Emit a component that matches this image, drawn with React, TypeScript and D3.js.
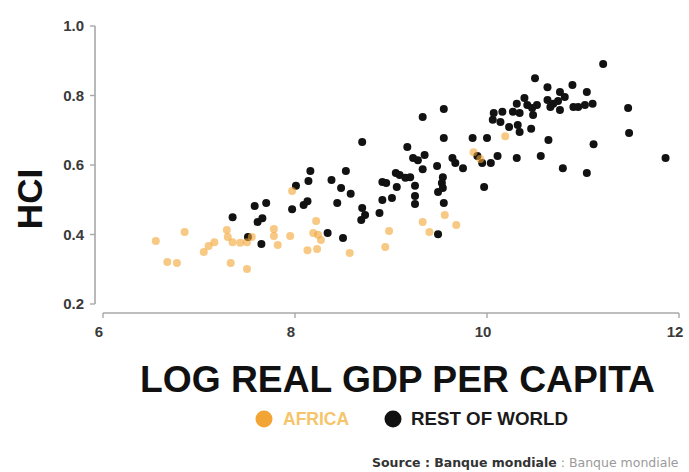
import React from "react";
import * as d3 from "d3";

// HCI vs log real GDP per capita, by region
const africaGdp = [
  6.55, 6.85, 6.67, 6.77, 7.05, 7.10, 7.16, 7.29, 7.30, 7.35, 7.43, 7.50, 7.55, 7.33, 7.50,
  7.78, 7.78, 7.82, 7.95, 7.97, 8.22, 8.24, 8.27, 8.19, 8.13, 8.23, 8.57, 8.98, 8.94, 9.33,
  9.40, 9.56, 9.68, 9.86, 9.93, 10.19,
];
const africaHci = [
  0.381, 0.407, 0.321, 0.318, 0.350, 0.367, 0.378, 0.413, 0.393, 0.378, 0.376, 0.378, 0.393, 0.318, 0.301,
  0.416, 0.396, 0.370, 0.396, 0.525, 0.439, 0.399, 0.384, 0.404, 0.355, 0.358, 0.347, 0.410, 0.364, 0.436,
  0.407, 0.456, 0.427, 0.637, 0.617, 0.683,
];

const worldGdp = [
  7.35, 7.58, 7.70, 7.61, 7.66, 7.51, 7.65, 8.01, 7.97, 8.09, 8.13, 8.14, 8.16, 8.38, 8.48,
  8.53, 8.58, 8.44, 8.70, 8.34, 8.50, 8.70, 8.73, 8.69, 8.88, 8.91, 9.01, 8.91, 8.95, 9.06,
  9.05, 9.09, 9.15, 9.20, 9.17, 9.23, 9.28, 9.35, 9.33, 9.33, 9.55, 9.55, 9.48, 9.25, 9.25,
  9.25, 9.54, 9.53, 9.54, 9.49, 9.55, 9.49, 9.64, 9.67, 9.75, 9.85, 10.00, 9.90, 9.95, 10.04,
  10.11, 10.31, 9.97, 10.07, 10.16, 10.06, 10.14, 10.27, 10.34, 10.23, 10.32, 10.34, 10.39, 10.31, 10.42,
  10.47, 10.52, 10.48, 10.46, 10.50, 10.63, 10.63, 10.66, 10.76, 10.81, 10.74, 10.69, 10.76, 10.89, 11.04,
  10.90, 10.95, 11.02, 11.10, 10.64, 11.11, 10.56, 10.79, 11.04, 11.21, 11.47, 11.48, 11.86,
];
const worldHci = [
  0.450, 0.482, 0.491, 0.436, 0.447, 0.393, 0.373, 0.540, 0.473, 0.485, 0.496, 0.554, 0.583, 0.557, 0.534,
  0.583, 0.517, 0.491, 0.666, 0.404, 0.390, 0.476, 0.456, 0.442, 0.462, 0.499, 0.505, 0.551, 0.548, 0.537,
  0.577, 0.571, 0.563, 0.565, 0.652, 0.620, 0.614, 0.629, 0.588, 0.738, 0.761, 0.678, 0.597, 0.540, 0.511,
  0.488, 0.565, 0.548, 0.534, 0.522, 0.491, 0.401, 0.620, 0.606, 0.591, 0.678, 0.678, 0.626, 0.606, 0.606,
  0.626, 0.620, 0.537, 0.750, 0.753, 0.730, 0.724, 0.753, 0.750, 0.709, 0.715, 0.695, 0.793, 0.776, 0.773,
  0.764, 0.773, 0.744, 0.704, 0.850, 0.824, 0.787, 0.767, 0.810, 0.796, 0.784, 0.776, 0.758, 0.830, 0.810,
  0.767, 0.767, 0.773, 0.776, 0.672, 0.660, 0.626, 0.591, 0.577, 0.891, 0.764, 0.692, 0.620,
];

const xTicks = [6, 8, 10, 12];
const yTicks = [0.2, 0.4, 0.6, 0.8, 1.0];

const W = 689;
const H = 472;
const ORANGE = "#f2a534";
const AXIS = "#a8a8a8";
const FONT = "'Liberation Sans', Arial, Helvetica, sans-serif";

export default function App() {
  const x = d3.scaleLinear().domain([6, 12]).range([103, 679]);
  const y = d3.scaleLinear().domain([0.2, 1.0]).range([304, 26]);
  const yAxisX = 95;
  const xAxisY = 313;

  const africa = africaGdp.map((g, i) => ({ g, h: africaHci[i] }));
  const world = worldGdp.map((g, i) => ({ g, h: worldHci[i] }));

  return (
    <svg
      width={W}
      height={H}
      style={{ position: "absolute", left: 0, top: 0, background: "#fff" }}
      fontFamily={FONT}
    >
      {/* y axis */}
      <line x1={yAxisX} x2={yAxisX} y1={y(0.2)} y2={y(1.0)} stroke={AXIS} strokeWidth={1.6} />
      {yTicks.map((t) => (
        <g key={`y${t}`}>
          <line x1={yAxisX - 5} x2={yAxisX} y1={y(t)} y2={y(t)} stroke={AXIS} strokeWidth={1.4} />
          <text
            x={yAxisX - 11}
            y={y(t)}
            dy="0.35em"
            textAnchor="end"
            fontSize={15}
            fontWeight="bold"
            fill="#3a3a3a"
          >
            {d3.format(".1f")(t)}
          </text>
        </g>
      ))}

      {/* x axis */}
      <line x1={x(6)} x2={x(12)} y1={xAxisY} y2={xAxisY} stroke={AXIS} strokeWidth={1.6} />
      {xTicks.map((t) => (
        <g key={`x${t}`}>
          <line x1={x(t)} x2={x(t)} y1={xAxisY} y2={xAxisY + 5} stroke={AXIS} strokeWidth={1.4} />
          <text
            x={x(t) - 4}
            y={xAxisY + 24}
            textAnchor="middle"
            fontSize={15}
            fontWeight="bold"
            fill="#3a3a3a"
          >
            {t}
          </text>
        </g>
      ))}

      {/* points */}
      {world.map((d, i) => (
        <circle key={`w${i}`} cx={x(d.g)} cy={y(d.h)} r={4} fill="#121212" />
      ))}
      {africa.map((d, i) => (
        <circle key={`a${i}`} cx={x(d.g)} cy={y(d.h)} r={4} fill={ORANGE} fillOpacity={0.6} />
      ))}

      {/* axis titles */}
      <text
        transform={`translate(42, 199) rotate(-90)`}
        textAnchor="middle"
        fontSize={35}
        fontWeight="bold"
        fill="#111"
      >
        HCI
      </text>
      <text
        x={140}
        y={392}
        textAnchor="start"
        fontSize={37}
        fontWeight="bold"
        fill="#111"
        textLength={515}
        lengthAdjust="spacingAndGlyphs"
      >
        LOG REAL GDP PER CAPITA
      </text>

      {/* legend */}
      <circle cx={264} cy={419} r={8.5} fill={ORANGE} />
      <text x={283} y={425} fontSize={17.5} fontWeight="bold" fill="#f6c46a">
        AFRICA
      </text>
      <circle cx={393} cy={419} r={8.5} fill="#111" />
      <text x={411} y={425} fontSize={17.5} fontWeight="bold" fill="#1a1a1a" textLength={157} lengthAdjust="spacingAndGlyphs">
        REST OF WORLD
      </text>

      {/* source */}
      <text x={372} y={467} fontSize={12.5} fontFamily="'DejaVu Sans', sans-serif">
        <tspan fontWeight="bold" fill="#333">
          Source : Banque mondiale
        </tspan>
        <tspan fill="#9a9a9a"> : Banque mondiale</tspan>
      </text>
    </svg>
  );
}
